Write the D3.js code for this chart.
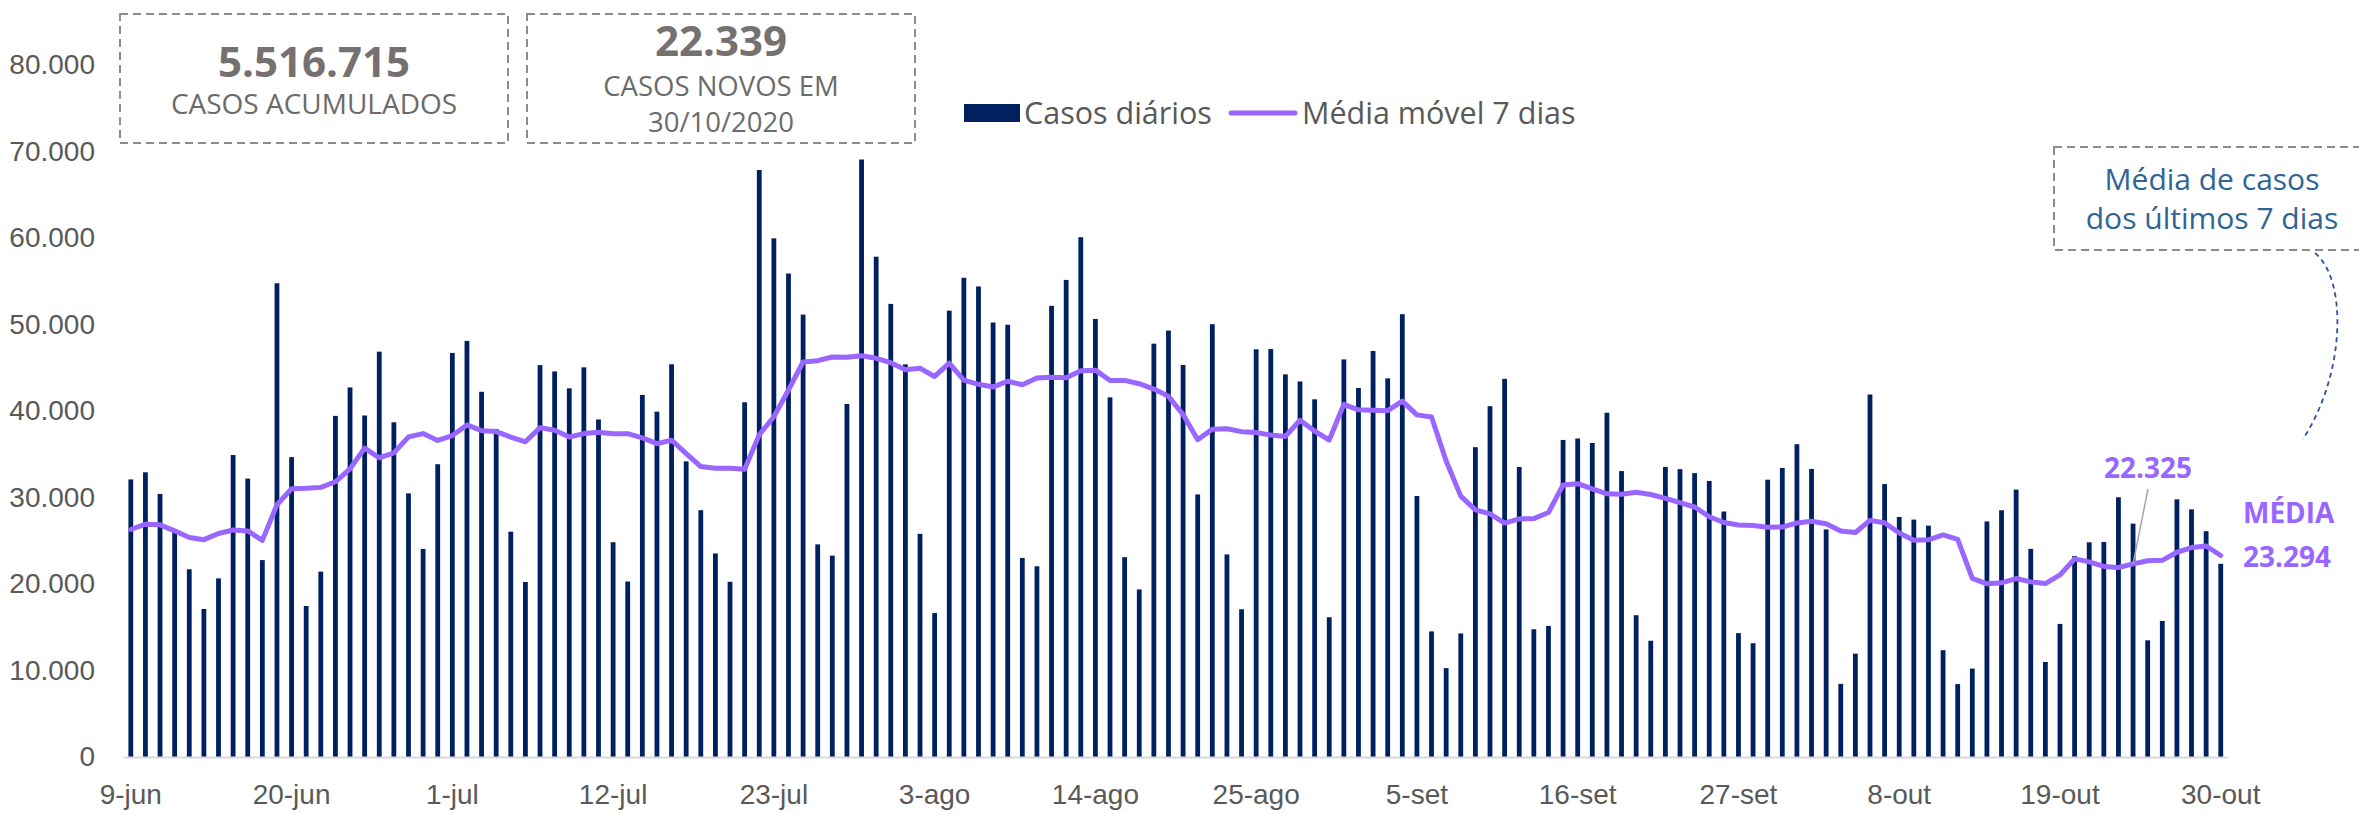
<!DOCTYPE html>
<html>
<head>
<meta charset="utf-8">
<script src="https://cdn.jsdelivr.net/npm/d3@7"></script>
<style>
  html, body { margin: 0; padding: 0; background: #fff; }
  svg { display: block; font-family: "Open Sans", "Noto Sans", sans-serif; }
  .y.axis text, .x.axis text { fill: #595959; font-size: 28px; }
  .legend text { fill: #595959; font-size: 30.5px; }
</style>
</head>
<body>
<div id="chart"></div>
<script>
// Data
var startDay = new Date(2020, 5, 9);
var endDay = new Date(2020, 9, 31);

var dailyCases = [
  32091, 32913, 30412, 25982, 21704, 17110, 20647, 34918, 32188, 22765,
  54771, 34666, 17459, 21432, 39436, 42725, 39483, 46860, 38693, 30476,
  24052, 33846, 46712, 48105, 42223, 37923, 26051, 20229, 45305, 44571,
  42619, 45048, 39023, 24831, 20286, 41857, 39924, 45403, 34177, 28532,
  23529, 20257, 41008, 67860, 59961, 55891, 51147, 24578, 23284, 40816,
  69074, 57837, 52383, 45392, 25800, 16641, 51603, 55400, 54400, 50230,
  49970, 23010, 22048, 52160, 55155, 60091, 50644, 41576, 23101, 19373,
  47784, 49298, 45323, 30355, 50032, 23421, 17078, 47134, 47161, 44235,
  43412, 41350, 16158, 45961, 42659, 46934, 43773, 51194, 30168, 14521,
  10273, 14279, 35816, 40557, 43718, 33523, 14768, 15155, 36653, 36820,
  36303, 39797, 33057, 16389, 13439, 33536, 33281, 32817, 31911, 28378,
  14318, 13155, 32058, 33413, 36157, 33300, 26310, 8456, 11946, 41906,
  31553, 27750, 27444, 26749, 12342, 8426, 10220, 27235, 28523, 30914,
  24062, 10982, 15383, 23227, 24818, 24858, 30026, 26979, 13493, 15726,
  29787, 28629, 26106, 22339
];

var movingAvg = [
  26303, 26914, 26841, 26148, 25381, 25124, 25837, 26241, 26137, 25045,
  29158, 31009, 31059, 31171, 31817, 33322, 35710, 34580, 35155, 37015,
  37389, 36591, 37160, 38392, 37730, 37620, 36987, 36441, 38078, 37772,
  36989, 37392, 37549, 37375, 37383, 36891, 36227, 36625, 35072, 33573,
  33387, 33383, 33261, 37252, 39332, 42434, 45665, 45815, 46247, 46220,
  46393, 46090, 45588, 44766, 44941, 43992, 45533, 43579, 43088, 42781,
  43435, 43036, 43809, 43888, 43853, 44666, 44725, 43526, 43539, 43157,
  42532, 41695, 39586, 36687, 37895, 37941, 37613, 37520, 37215, 37059,
  38925, 37684, 36647, 40773, 40134, 40101, 40035, 41147, 39550, 39316,
  34217, 30163, 28575, 28115, 27047, 27527, 27562, 28259, 31456, 31599,
  30991, 30431, 30365, 30596, 30351, 29906, 29400, 28902, 27776, 27107,
  26811, 26771, 26560, 26579, 27056, 27254, 26959, 26121, 25949, 27355,
  27090, 25889, 25052, 25115, 25670, 25167, 20641, 20024, 20134, 20630,
  20246, 20052, 21046, 22904, 22558, 22035, 21908, 22325, 22683, 22732,
  23670, 24214, 24392, 23294
];

var tickLabels = ["9-jun", "20-jun", "1-jul", "12-jul", "23-jul", "3-ago", "14-ago",
  "25-ago", "5-set", "16-set", "27-set", "8-out", "19-out", "30-out"];
var yTicks = [0, 10000, 20000, 30000, 40000, 50000, 60000, 70000, 80000];

var totalCases = "5.516.715";
var newCases = "22.339";
var reportDate = "30/10/2020";
var markedAvg = "22.325";
var lastAvg = "23.294";

var NAVY = "#002060";
var PURPLE = "#9966ff";

var render = function() {
  var width = 2359;
  var height = 814;

  var days = d3.timeDay.range(startDay, endDay);
  var data = days.map((d, i) => ({ day: d, cases: dailyCases[i], avg: movingAvg[i] }));

  var svg = d3.select("#chart")
    .append("svg")
    .attr("width", width)
    .attr("height", height);

  // Scales
  var xScale = d3.scaleBand()
    .domain(d3.range(data.length))
    .range([123.5, 123.5 + 14.615 * data.length])
    .padding(0);

  var yScale = d3.scaleLinear()
    .domain([0, 80000])
    .range([757, 65]);

  var cx = i => xScale(i) + xScale.bandwidth() / 2;
  var fmt = d3.formatLocale({ decimal: ",", thousands: ".", grouping: [3], currency: ["", ""] }).format(",d");

  // Y axis labels
  var yAxis = d3.axisLeft(yScale)
    .tickValues(yTicks)
    .tickSize(0)
    .tickPadding(0)
    .tickFormat(fmt);

  svg.append("g")
    .attr("class", "y axis")
    .attr("transform", "translate(95,0)")
    .call(yAxis)
    .call(g => g.select(".domain").remove());

  // X axis labels, every 11 days
  var tickIdx = tickLabels.map((t, i) => i * 11);
  var xAxis = d3.axisBottom(xScale)
    .tickValues(tickIdx)
    .tickSize(0)
    .tickPadding(0)
    .tickFormat((d, i) => tickLabels[i]);

  svg.append("g")
    .attr("class", "x axis")
    .attr("transform", "translate(0,784)")
    .call(xAxis)
    .call(g => g.select(".domain").remove());

  // Bars
  var barWidth = 4.8;
  svg.append("g")
    .selectAll("rect")
    .data(data)
    .enter()
    .append("rect")
    .attr("x", (d, i) => cx(i) - barWidth / 2)
    .attr("y", d => yScale(d.cases))
    .attr("width", barWidth)
    .attr("height", d => yScale(0) - yScale(d.cases))
    .attr("fill", NAVY);

  // Base line
  svg.append("line")
    .attr("x1", xScale.range()[0])
    .attr("x2", xScale.range()[1])
    .attr("y1", yScale(0) + 0.5)
    .attr("y2", yScale(0) + 0.5)
    .attr("stroke", "#d9d9d9")
    .attr("stroke-width", 2);

  // Moving average line
  var line = d3.line()
    .x((d, i) => cx(i))
    .y(d => yScale(d.avg));

  svg.append("path")
    .datum(data)
    .attr("d", line)
    .attr("fill", "none")
    .attr("stroke", PURPLE)
    .attr("stroke-width", 5)
    .attr("stroke-linejoin", "round")
    .attr("stroke-linecap", "round");

  // Summary boxes
  var boxes = [
    { x: 120, w: 388, lines: [[totalCases, 42, 77, true], ["CASOS ACUMULADOS", 28, 114, false]] },
    { x: 527, w: 388, lines: [[newCases, 42, 56, true], ["CASOS NOVOS EM", 27.5, 96, false], [reportDate, 27.5, 132, false]] }
  ];
  boxes.forEach(function(b) {
    var g = svg.append("g");
    g.append("rect")
      .attr("x", b.x)
      .attr("y", 14)
      .attr("width", b.w)
      .attr("height", 129)
      .attr("fill", "none")
      .attr("stroke", "#8c8c8c")
      .attr("stroke-width", 2)
      .attr("stroke-dasharray", "8,5");
    b.lines.forEach(function(l) {
      g.append("text")
        .attr("x", b.x + b.w / 2)
        .attr("y", l[2])
        .attr("text-anchor", "middle")
        .attr("fill", l[3] ? "#767171" : "#6b6b6b")
        .attr("font-weight", l[3] ? 700 : 400)
        .attr("font-size", l[1])
        .text(l[0]);
    });
  });

  // Legend
  var legend = svg.append("g").attr("class", "legend");
  legend.append("rect")
    .attr("x", 964).attr("y", 104).attr("width", 56).attr("height", 18)
    .attr("fill", NAVY);
  legend.append("text").attr("x", 1024).attr("y", 124).text("Casos diários");
  legend.append("line")
    .attr("x1", 1231).attr("x2", 1295).attr("y1", 113).attr("y2", 113)
    .attr("stroke", PURPLE).attr("stroke-width", 5).attr("stroke-linecap", "round");
  legend.append("text").attr("x", 1302).attr("y", 124).text("Média móvel 7 dias");

  // Note box on the right
  svg.append("rect")
    .attr("x", 2054).attr("y", 147).attr("width", 330).attr("height", 103)
    .attr("fill", "none")
    .attr("stroke", "#8c8c8c")
    .attr("stroke-width", 2)
    .attr("stroke-dasharray", "8,5");
  [["Média de casos", 190], ["dos últimos 7 dias", 229]].forEach(function(t) {
    svg.append("text")
      .attr("x", 2212).attr("y", t[1])
      .attr("text-anchor", "middle")
      .attr("fill", "#2f6497")
      .attr("font-size", 30)
      .text(t[0]);
  });
  svg.append("path")
    .attr("d", "M2315,253 C2348,280 2345,375 2303,439")
    .attr("fill", "none")
    .attr("stroke", "#2f5597")
    .attr("stroke-width", 1.8)
    .attr("stroke-dasharray", "5,4");

  // Value labels
  var markIdx = 137;
  svg.append("line")
    .attr("x1", 2148).attr("y1", 489)
    .attr("x2", cx(markIdx)).attr("y2", yScale(movingAvg[markIdx]))
    .attr("stroke", "#a6a6a6").attr("stroke-width", 1.5);
  svg.append("text")
    .attr("x", 2148).attr("y", 478)
    .attr("text-anchor", "middle")
    .attr("fill", PURPLE).attr("font-weight", 700).attr("font-size", 28)
    .text(markedAvg);
  svg.append("text")
    .attr("x", 2243).attr("y", 523)
    .attr("fill", PURPLE).attr("font-weight", 700).attr("font-size", 28)
    .text("MÉDIA");
  svg.append("text")
    .attr("x", 2243).attr("y", 567)
    .attr("fill", PURPLE).attr("font-weight", 700).attr("font-size", 28)
    .text(lastAvg);
};

window.onload = render;
</script>
</body>
</html>
